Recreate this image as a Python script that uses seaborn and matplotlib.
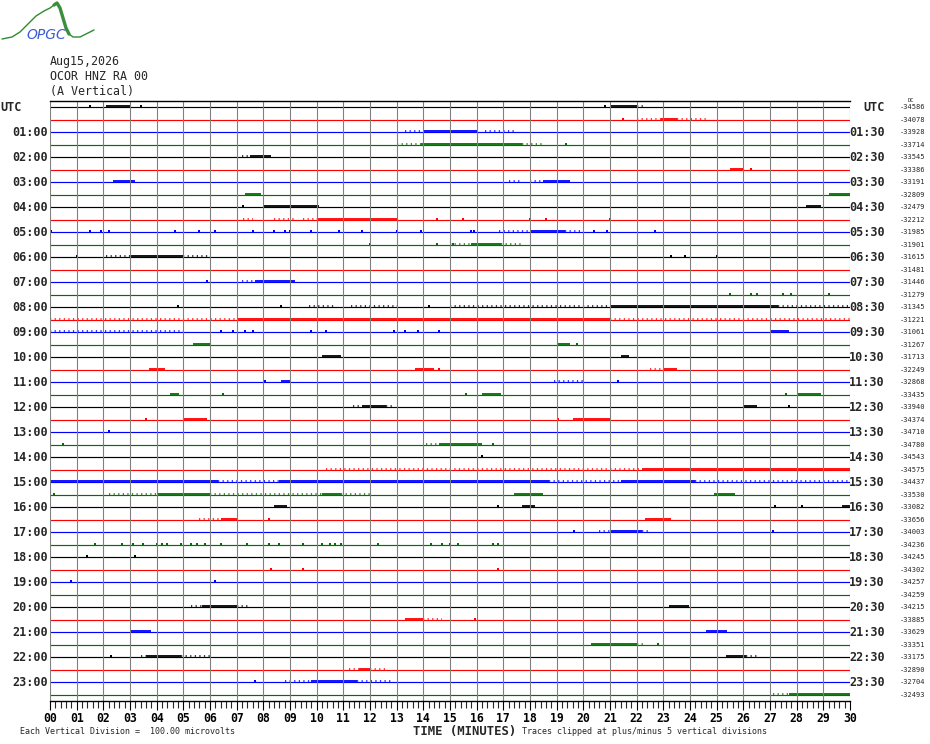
import numpy as np
import pandas as pd
import matplotlib
matplotlib.use("Agg")
import matplotlib.pyplot as plt
import seaborn as sns

sns.set_style("white")
plt.rcParams["font.family"] = ["DejaVu Sans Mono", "DejaVu Sans"]

# --- dati ---
N_TRACES = 48
trace_colors = ["#000000", "#ff0000", "#0000ff", "#007000"]

header_lines = ["Aug15,2026", "OCOR HNZ RA 00", "(A Vertical)"]
left_labels = ["UTC"] + [f"{h:02d}:00" for h in range(1, 24)]
right_labels = ["UTC"] + [f"{h:02d}:30" for h in range(1, 24)]
minute_labels = [f"{m:02d}" for m in range(31)]

right_values = [-34586, -34078, -33928, -33714, -33545, -33386, -33191, -32809,
                -32479, -32212, -31985, -31901, -31615, -31481, -31446, -31279,
                -31345, -31221, -31061, -31267, -31713, -32249, -32868, -33435,
                -33940, -34374, -34710, -34780, -34543, -34575, -34437, -33530,
                -33082, -33656, -34003, -34236, -34245, -34302, -34257, -34259,
                -34215, -33885, -33629, -33351, -33175, -32890, -32704, -32493]

# (traccia, minuto inizio, minuto fine)
dense_bursts = [
    (0, 2.1, 3.0), (0, 21.0, 22.0), (1, 22.9, 23.5), (2, 14.0, 16.0),
    (3, 13.9, 17.7), (4, 7.5, 8.3), (5, 25.5, 26.0), (6, 2.35, 3.2),
    (6, 18.5, 19.5), (7, 7.3, 7.9), (7, 29.2, 30.0), (8, 8.0, 10.1),
    (8, 28.35, 28.9), (9, 10.0, 13.0), (10, 18.0, 19.3), (11, 15.8, 16.9),
    (12, 3.0, 5.0), (14, 7.7, 9.2), (16, 21.0, 27.3), (17, 7.0, 21.0),
    (18, 27.0, 27.7), (19, 5.35, 6.0), (19, 19.0, 19.5), (20, 10.2, 10.9),
    (20, 21.4, 21.7), (21, 3.7, 4.3), (21, 13.7, 14.4), (21, 23.0, 23.5),
    (22, 8.65, 9.0), (23, 4.5, 4.85), (23, 16.2, 16.9), (23, 28.0, 28.9),
    (24, 11.7, 12.6), (24, 26.0, 26.5), (25, 5.0, 5.9), (25, 19.6, 21.0),
    (27, 14.6, 16.2), (29, 22.2, 30.0), (30, 0.0, 6.3), (30, 8.6, 18.7),
    (30, 21.4, 24.2), (31, 4.0, 6.0), (31, 10.2, 10.9), (31, 17.4, 18.5),
    (31, 24.9, 25.7), (32, 8.4, 8.9), (32, 17.7, 18.2), (32, 29.7, 30.0),
    (33, 6.4, 7.0), (33, 22.3, 23.3), (34, 21.0, 22.2), (40, 5.7, 7.0),
    (40, 23.2, 23.95), (41, 13.3, 14.0), (42, 3.0, 3.8), (42, 24.6, 25.4),
    (43, 20.3, 22.0), (44, 3.6, 4.9), (44, 25.35, 26.1), (45, 11.6, 12.0),
    (46, 9.8, 11.5), (47, 27.7, 30.0),
]

sparse_bursts = [
    (0, 22.0, 22.35), (1, 22.0, 22.9), (1, 23.5, 24.7), (2, 13.3, 14.0),
    (2, 16.3, 17.4), (3, 13.0, 13.9), (3, 17.7, 18.5), (4, 7.2, 7.5),
    (6, 17.2, 17.7), (6, 18.0, 18.5), (9, 7.25, 7.6), (9, 8.4, 9.2),
    (9, 9.5, 10.0), (10, 16.85, 18.0), (10, 19.3, 19.9), (11, 15.0, 15.8),
    (11, 16.9, 17.7), (12, 2.1, 3.0), (12, 5.0, 6.0), (14, 7.2, 7.7),
    (16, 9.7, 10.7), (16, 11.3, 13.0), (16, 15.0, 21.0), (16, 27.3, 30.0),
    (17, 0.0, 7.0), (17, 21.0, 30.0), (18, 0.0, 5.0), (21, 22.5, 23.0),
    (22, 18.9, 20.0), (24, 11.35, 11.7), (24, 12.6, 12.9), (27, 14.1, 14.6),
    (29, 10.35, 22.2), (30, 6.3, 8.6), (30, 18.7, 21.4), (30, 24.2, 30.0),
    (31, 2.2, 4.0), (31, 6.0, 10.2), (31, 10.9, 12.0), (33, 5.6, 6.4),
    (34, 20.6, 21.0), (34, 22.2, 22.5), (40, 5.3, 5.7), (40, 7.0, 7.5),
    (41, 14.0, 14.7), (43, 22.0, 22.3), (44, 3.4, 3.6), (44, 4.9, 6.0),
    (44, 26.1, 26.5), (45, 11.2, 11.6), (45, 12.0, 12.6), (46, 8.8, 9.8),
    (46, 11.5, 12.85), (47, 27.1, 27.7),
]

# (traccia, minuto) picchi isolati
spikes = [
    (0, 1.5), (0, 3.4), (0, 20.8), (1, 21.5), (3, 19.35), (5, 26.3),
    (8, 7.25), (9, 14.5), (9, 15.5), (9, 18.0), (9, 18.6), (9, 21.0),
    (10, 0.05), (10, 1.5), (10, 1.9), (10, 2.2), (10, 4.7), (10, 5.6),
    (10, 6.2), (10, 7.6), (10, 8.4), (10, 8.8), (10, 9.0), (10, 9.8),
    (10, 10.85), (10, 11.7), (10, 13.0), (10, 13.9), (10, 15.8), (10, 15.9),
    (10, 20.4), (10, 20.9), (10, 22.7), (11, 12.0), (11, 14.5), (11, 15.1),
    (12, 1.0), (12, 23.3), (12, 23.8), (12, 25.0), (14, 5.9), (15, 25.5),
    (15, 26.3), (15, 26.5), (15, 27.5), (15, 27.8), (15, 29.2), (16, 4.8),
    (16, 8.65), (16, 14.2), (18, 6.4), (18, 6.85), (18, 7.3), (18, 7.6),
    (18, 9.8), (18, 10.35), (18, 12.9), (18, 13.3), (18, 13.8), (18, 14.6),
    (19, 19.75), (21, 14.6), (22, 8.05), (22, 21.3), (23, 6.5), (23, 15.6),
    (23, 27.6), (24, 27.7), (25, 3.6), (25, 19.05), (26, 2.2), (27, 0.5),
    (27, 16.6), (28, 16.2), (31, 0.15), (32, 16.8), (32, 27.2), (32, 28.2),
    (33, 8.2), (34, 19.65), (34, 27.1), (35, 1.7), (35, 2.7), (35, 3.1),
    (35, 3.5), (35, 4.0), (35, 4.2), (35, 4.4), (35, 4.9), (35, 5.3),
    (35, 5.5), (35, 5.8), (35, 6.4), (35, 7.4), (35, 8.2), (35, 8.6),
    (35, 9.5), (35, 10.2), (35, 10.5), (35, 10.7), (35, 10.9), (35, 12.3),
    (35, 14.3), (35, 14.7), (35, 15.0), (35, 15.3), (35, 16.6), (35, 16.8),
    (36, 1.4), (36, 3.2), (37, 8.3), (37, 9.5), (37, 16.8), (38, 0.8),
    (38, 6.2), (41, 15.95), (43, 22.8), (44, 2.3), (46, 7.7),
]

logo_x = [2, 12, 20, 28, 36, 44, 50, 54, 57, 60, 63, 66, 69, 73, 80, 88, 94]
logo_y = [39, 37, 32, 24, 16, 11, 8, 5, 3, 8, 18, 28, 34, 37, 37, 33, 30]


def trace_color(t):
    return trace_colors[t % 4]


def main():
    fig = plt.figure(figsize=(9.3, 7.44), dpi=100)
    ax = fig.add_axes([50 / 930, 43 / 744, 800 / 930, 600 / 744])
    ax.set_xlim(0, 30)
    ax.set_ylim(N_TRACES - 0.5, -0.5)

    # linee di base delle tracce
    base = pd.DataFrame({
        "trace": np.repeat(np.arange(N_TRACES), 2),
        "minute": np.tile([0.0, 30.0], N_TRACES),
    })
    palette = {t: trace_color(t) for t in range(N_TRACES)}
    sns.lineplot(data=base, x="minute", y="trace", hue="trace", palette=palette,
                 estimator=None, legend=False, linewidth=0.85, ax=ax, zorder=2)

    # tratti di rumore
    df_d = pd.DataFrame(dense_bursts, columns=["trace", "start", "end"])
    ax.hlines(df_d["trace"] - 0.07, df_d["start"], df_d["end"],
              colors=[trace_color(t) for t in df_d["trace"]], linewidth=1.3, zorder=3)
    df_s = pd.DataFrame(sparse_bursts, columns=["trace", "start", "end"])
    ax.hlines(df_s["trace"] - 0.07, df_s["start"], df_s["end"],
              colors=[trace_color(t) for t in df_s["trace"]], linewidth=1.1,
              linestyles=(0, (0.8, 2.2)), zorder=3)
    df_p = pd.DataFrame(spikes, columns=["trace", "minute"])
    df_p["y"] = df_p["trace"] - 0.08
    sns.scatterplot(data=df_p, x="minute", y="y", hue="trace", palette=palette,
                    marker="s", s=2, linewidth=0, legend=False, ax=ax, zorder=3)

    # griglia verticale sopra le tracce, come nel riferimento
    ax.set_xticks(range(31))
    ax.set_xticks(np.arange(0, 30.01, 0.2), minor=True)
    ax.set_xticklabels(minute_labels, fontsize=8.3, fontweight="bold")
    ax.set_yticks([])
    ax.set_xlabel("")
    ax.set_ylabel("")
    ax.grid(False)
    for m in range(31):
        ax.axvline(m, color="#808080", linewidth=0.8, zorder=5)
    ax.tick_params(axis="x", which="major", length=6.5, width=0.8, direction="out",
                   pad=1.5, colors="black", bottom=True)
    ax.tick_params(axis="x", which="minor", length=5, width=0.8, direction="out",
                   bottom=True)
    for side in ["top", "bottom"]:
        ax.spines[side].set_color("black")
        ax.spines[side].set_linewidth(1.0)
        ax.spines[side].set_zorder(6)
    for side in ["left", "right"]:
        ax.spines[side].set_visible(False)

    # etichette orarie
    for i in range(0, N_TRACES, 2):
        lab = left_labels[i // 2]
        if lab == "UTC":
            ax.text(-50 / 26.667, i, lab, ha="left", va="center", fontsize=8.5,
                    fontweight="bold", clip_on=False)
        else:
            ax.text(-2 / 26.667, i, lab, ha="right", va="center", fontsize=8.5,
                    fontweight="bold", clip_on=False)
        ax.text(30 + 35 / 26.667, i, right_labels[i // 2], ha="right", va="center",
                fontsize=8.5, fontweight="bold", clip_on=False)
    for i, v in enumerate(right_values):
        ax.text(30 + 50 / 26.667, i, str(v), ha="left", va="center", fontsize=5,
                clip_on=False)
    ax.text(30 + 58 / 26.667, -0.55, "DC", ha="left", va="center", fontsize=4,
            clip_on=False)

    # intestazione
    for k, line in enumerate(header_lines):
        fig.text(50 / 930, 1 - (61 + k * 15) / 744, line, ha="left", va="center",
                 fontsize=8.4)

    fig.text(465 / 930, 1 - 731 / 744, "TIME (MINUTES)", ha="center", va="center",
             fontsize=8.8, fontweight="bold")
    fig.text(20 / 930, 1 - 731 / 744, "Each Vertical Division =  100.00 microvolts",
             ha="left", va="center", fontsize=6)
    fig.text(522 / 930, 1 - 731 / 744, "Traces clipped at plus/minus 5 vertical divisions",
             ha="left", va="center", fontsize=6)

    # logo
    lax = fig.add_axes([0, 1 - 45 / 744, 100 / 930, 45 / 744])
    lax.set_xlim(0, 100)
    lax.set_ylim(45, 0)
    lax.axis("off")
    lax.plot(logo_x, logo_y, color="#2e8b2e", linewidth=1.0)
    lax.plot(logo_x[7:13], logo_y[7:13], color="#3a8f3a", linewidth=2.4)
    lax.text(46, 35, "OPGC", ha="center", va="center", fontsize=10,
             style="italic", color="#3b5bd6", family="DejaVu Sans")

    fig.savefig("out.png", dpi=100)
    plt.close(fig)


if __name__ == "__main__":
    main()
